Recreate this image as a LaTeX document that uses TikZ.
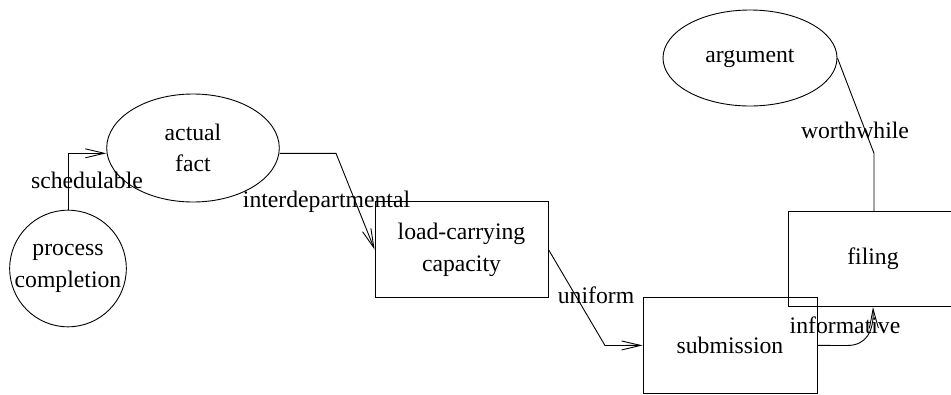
\documentclass[tikz,border=0pt]{standalone}
\usepackage{fontspec}
\setmainfont{Liberation Serif}
\usetikzlibrary{arrows.meta,shapes.geometric}
\begin{document}
\begin{tikzpicture}[x=1pt,y=-1pt,
  every node/.style={font=\fontsize{23.7}{31.7}\selectfont},
  ln/.style={line width=0.9pt,draw=black},
  boxnode/.style={ln,rectangle,inner sep=0pt,align=center},
  ellnode/.style={ln,ellipse,inner sep=0pt,align=center},
  circnode/.style={ln,circle,inner sep=0pt,align=center},
  edge/.style={line width=0.9pt},
  arr/.style={edge,-{Straight Barb[length=19pt,width=9pt]}},
  lbl/.style={anchor=base,inner sep=0pt}]
\useasboundingbox (0,0) rectangle (951,394);
\node[circnode,minimum size=116pt] (pc) at (68,268.5) {process\\completion};
\node[ellnode,minimum width=172.6pt,minimum height=108pt] (af) at (193,148) {actual\\fact};
\node[boxnode,minimum width=173pt,minimum height=95.6pt] (lcc) at (461.5,249.5) {load-carrying\\capacity};
\node[boxnode,minimum width=174pt,minimum height=95.6pt] (sub) at (730,345.4) {submission};
\node[boxnode,minimum width=170pt,minimum height=95pt] (fil) at (873,259.2) {filing};
\node[ellnode,minimum width=174pt,minimum height=96pt] (arg) at (750,58) {argument};
\coordinate (k1) at (336,153.3);
\coordinate (k2) at (605,345.5);
\coordinate (k3) at (847,345.5);
\coordinate (k4) at (874,153.3);
\draw[arr] (pc.north) |- ([yshift=-5.3pt]af.west);
\draw[arr] ([yshift=-5.3pt]af.east) -- (k1) -- (lcc.west);
\draw[arr] (lcc.east) -- (k2) -- (sub.west);
\draw[arr] (sub.east) -- (k3) .. controls (866,345.5) and (874,332) .. (fil.south);
\draw[edge] (arg.east) -- (k4) -- (k4 |- fil.north);
\node[lbl] (l1) at (87,188.3) {schedulable};
\node[lbl] (l2) at (326.5,207.3) {interdepartmental};
\node[lbl] (l3) at (596,303.3) {uniform};
\node[lbl] (l4) at (845,333.3) {informative};
\node[lbl] (l5) at (855,138.3) {worthwhile};
\end{tikzpicture}
\end{document}
